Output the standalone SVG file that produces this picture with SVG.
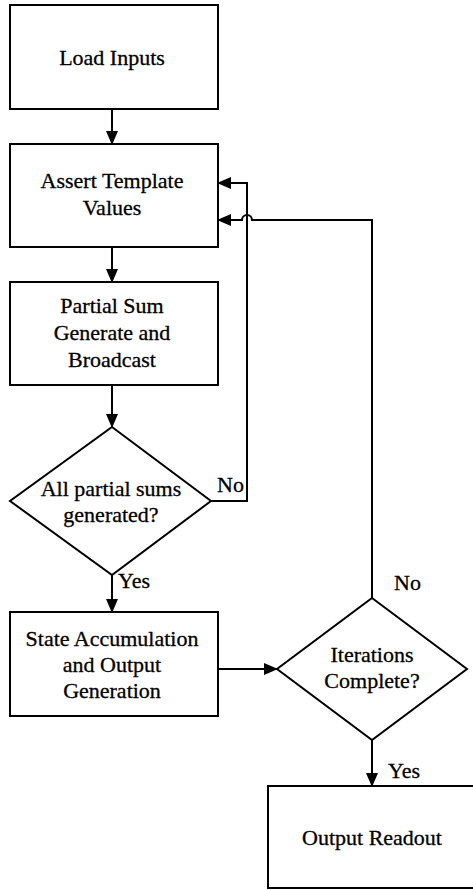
<svg xmlns="http://www.w3.org/2000/svg" width="473" height="890" viewBox="0 0 473 890" font-family="'Liberation Serif', 'Times New Roman', 'DejaVu Serif', serif">
<style>
.box{fill:#fff;stroke:#000;stroke-width:2}
.ln{fill:none;stroke:#000;stroke-width:2}
text{font-family:'Liberation Serif','Times New Roman','DejaVu Serif',serif;font-size:22px;fill:#000;text-anchor:middle;stroke:#000;stroke-width:0.3}
.lbl{text-anchor:start}
</style>
<defs>
<marker id="ah" markerWidth="14" markerHeight="12" refX="13" refY="6" orient="auto" markerUnits="userSpaceOnUse">
<path d="M0,0 L14,6 L0,12 Z" fill="#000"/>
</marker>
</defs>
<rect width="473" height="890" fill="#fff"/>
<g id="connectors">
<path class="ln" d="M112,109 V144" marker-end="url(#ah)"/>
<path class="ln" d="M112,247 V282" marker-end="url(#ah)"/>
<path class="ln" d="M112,385 V427" marker-end="url(#ah)"/>
<path class="ln" d="M112,575 V612" marker-end="url(#ah)"/>
<path class="ln" d="M211,501 H247 V183 H218" marker-end="url(#ah)"/>
<path class="ln" d="M218,669 H277" marker-end="url(#ah)"/>
<path class="ln" d="M372,598 V220 H252 A5,5 0 0 0 242,220 H218" marker-end="url(#ah)"/>
<path class="ln" d="M372,740 V786" marker-end="url(#ah)"/>
<text class="lbl" x="217" y="492">No</text>
<text class="lbl" x="118" y="588">Yes</text>
<text class="lbl" x="394" y="590">No</text>
<text class="lbl" x="388" y="778">Yes</text>
</g>
<g id="load">
<rect class="box" x="10" y="5" width="208" height="104"/>
<text x="112" y="65">Load Inputs</text>
</g>
<g id="assert">
<rect class="box" x="10" y="144" width="208" height="103"/>
<text x="112" y="188">Assert Template</text>
<text x="112" y="215">Values</text>
</g>
<g id="partial">
<rect class="box" x="10" y="282" width="208" height="103"/>
<text x="112" y="313">Partial Sum</text>
<text x="112" y="340">Generate and</text>
<text x="112" y="367">Broadcast</text>
</g>
<g id="allpartial">
<path class="box" d="M112,427 L211,501 L112,575 L10,501 Z"/>
<text x="111" y="496">All partial sums</text>
<text x="111" y="522">generated?</text>
</g>
<g id="state">
<rect class="box" x="10" y="612" width="208" height="104"/>
<text x="112" y="646">State Accumulation</text>
<text x="112" y="672">and Output</text>
<text x="112" y="698">Generation</text>
</g>
<g id="iterations">
<path class="box" d="M372,598 L467,669 L372,740 L277,669 Z"/>
<text x="372" y="662">Iterations</text>
<text x="372" y="688">Complete?</text>
</g>
<g id="readout">
<rect class="box" x="268" y="786" width="215" height="102"/>
<text x="372" y="845">Output Readout</text>
</g>
</svg>
